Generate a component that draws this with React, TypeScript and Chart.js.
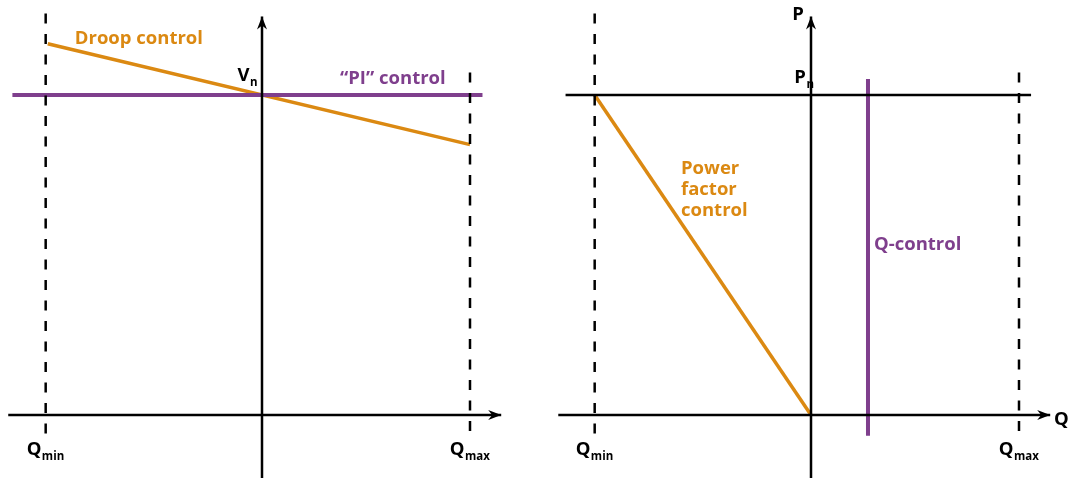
import React, { useEffect, useRef } from "react";
import { Chart, registerables } from "chart.js";

Chart.register(...registerables);

// ---------- data (Q in p.u. of Qmax, V/P in p.u. of nominal) ----------
const Q_MIN = -1.04;
const Q_MAX = 1.0;

// left panel: V(Q)
const droopQ = [-1.03, 1.0];
const droopV = [1.16, 0.845];
const piQ = [-1.2, 1.06];
const piV = [1.0, 1.0];
const leftAxisQ = [-1.22, 1.15];
const leftAxisV = [-0.2, 1.245];
const leftDashMinV = [1.255, -0.06];
const leftDashMaxV = [1.07, -0.06];

// right panel: P(Q)
const pfQ = [Q_MIN, 0];
const pfP = [1.0, 0.0];
const qCtrlQ = [0.274, 0.274];
const qCtrlP = [1.05, -0.065];
const pnLineQ = [-1.18, 1.058];
const pnLineP = [1.0, 1.0];
const rightAxisQ = [-1.215, 1.15];
const rightAxisP = [-0.2, 1.245];
const rightDashMinP = [1.255, -0.06];
const rightDashMaxP = [1.07, -0.06];

const ORANGE = "#db8912";
const PURPLE = "#7f3f8d";
const BLACK = "#000000";
const FONT = '"Open Sans", "DejaVu Sans", sans-serif';

type Label = { text: string; sub?: string; x: number; y: number; color: string; align?: "left" | "center" };

const leftLabels: Label[] = [
  { text: "Droop control", x: -0.9, y: 1.159, color: ORANGE },
  { text: "V", sub: "n", x: -0.118, y: 1.044, color: BLACK },
  { text: "\u201cPI\u201d control", x: 0.375, y: 1.034, color: PURPLE },
  { text: "Q", sub: "min", x: Q_MIN, y: -0.125, color: BLACK, align: "center" },
  { text: "Q", sub: "max", x: Q_MAX, y: -0.125, color: BLACK, align: "center" },
];

const rightLabels: Label[] = [
  { text: "P", x: -0.09, y: 1.234, color: BLACK },
  { text: "P", sub: "n", x: -0.08, y: 1.0375, color: BLACK },
  { text: "Q", x: 1.168, y: -0.031, color: BLACK },
  { text: "Power", x: -0.625, y: 0.753, color: ORANGE },
  { text: "factor", x: -0.625, y: 0.6875, color: ORANGE },
  { text: "control", x: -0.625, y: 0.622, color: ORANGE },
  { text: "Q-control", x: 0.303, y: 0.516, color: PURPLE },
  { text: "Q", sub: "min", x: Q_MIN, y: -0.125, color: BLACK, align: "center" },
  { text: "Q", sub: "max", x: Q_MAX, y: -0.125, color: BLACK, align: "center" },
];

const pts = (xs: number[], ys: number[]) => xs.map((x, i) => ({ x, y: ys[i] }));

const lineDs = (data: { x: number; y: number }[], color: string, width: number, extra: any = {}) => ({
  data,
  borderColor: color,
  backgroundColor: color,
  borderWidth: width,
  showLine: true,
  pointRadius: 0,
  borderCapStyle: "butt",
  clip: false,
  ...extra,
});

const diagramPlugin = (labels: Label[], arrowDatasets: number[]) => ({
  id: "diagram",
  afterDatasetsDraw(chart: any) {
    const ctx = chart.ctx as CanvasRenderingContext2D;
    const xs = chart.scales.x;
    const ys = chart.scales.y;
    // arrowheads at the end of axis datasets
    arrowDatasets.forEach((di) => {
      const d = chart.data.datasets[di].data;
      const a = d[d.length - 2];
      const b = d[d.length - 1];
      const x1 = xs.getPixelForValue(a.x), y1 = ys.getPixelForValue(a.y);
      const x2 = xs.getPixelForValue(b.x), y2 = ys.getPixelForValue(b.y);
      const ang = Math.atan2(y2 - y1, x2 - x1);
      const L = 13, W = 5;
      ctx.save();
      ctx.fillStyle = BLACK;
      ctx.beginPath();
      ctx.moveTo(x2, y2);
      ctx.lineTo(x2 - L * Math.cos(ang) - W * Math.sin(ang), y2 - L * Math.sin(ang) + W * Math.cos(ang));
      ctx.lineTo(x2 - (L - 4) * Math.cos(ang), y2 - (L - 4) * Math.sin(ang));
      ctx.lineTo(x2 - L * Math.cos(ang) + W * Math.sin(ang), y2 - L * Math.sin(ang) - W * Math.cos(ang));
      ctx.closePath();
      ctx.fill();
      ctx.restore();
    });
    // text labels
    labels.forEach((lb) => {
      ctx.save();
      ctx.fillStyle = lb.color;
      ctx.textBaseline = "alphabetic";
      ctx.textAlign = "left";
      const main = `bold 18.5px ${FONT}`;
      const sub = `bold 11.5px ${FONT}`;
      ctx.font = main;
      const wMain = ctx.measureText(lb.text).width;
      let wSub = 0;
      if (lb.sub) {
        ctx.font = sub;
        wSub = ctx.measureText(lb.sub).width + 1;
      }
      let px = xs.getPixelForValue(lb.x);
      const py = ys.getPixelForValue(lb.y);
      if (lb.align === "center") px -= (wMain + wSub) / 2;
      ctx.font = main;
      ctx.fillText(lb.text, px, py);
      if (lb.sub) {
        ctx.font = sub;
        ctx.fillText(lb.sub, px + wMain + 0.5, py + 5);
      }
      ctx.restore();
    });
  },
});

const makeOptions = (xmin: number, xmax: number, ymin: number, ymax: number) => ({
  animation: false,
  responsive: false,
  maintainAspectRatio: false,
  layout: { padding: 0 },
  plugins: { legend: { display: false }, tooltip: { enabled: false } },
  scales: {
    x: { type: "linear", min: xmin, max: xmax, display: false },
    y: { type: "linear", min: ymin, max: ymax, display: false },
  },
});

const DASH = [10, 10.5];

function Panel({ which }: { which: "left" | "right" }) {
  const ref = useRef<HTMLCanvasElement | null>(null);
  useEffect(() => {
    if (!ref.current) return;
    let datasets: any[];
    let labels: Label[];
    let opts: any;
    if (which === "left") {
      datasets = [
        lineDs(pts([leftAxisQ[0], leftAxisQ[1]], [0, 0]), BLACK, 2.5),
        lineDs(pts([0, 0], [leftAxisV[0], leftAxisV[1]]), BLACK, 2.5),
        lineDs(pts([Q_MIN, Q_MIN], leftDashMinV), BLACK, 2.5, { borderDash: DASH }),
        lineDs(pts([Q_MAX, Q_MAX], leftDashMaxV), BLACK, 2.5, { borderDash: DASH }),
        lineDs(pts(piQ, piV), PURPLE, 4),
        lineDs(pts(droopQ, droopV), ORANGE, 3.5),
      ];
      labels = leftLabels;
      opts = makeOptions(-262 / 208, -262 / 208 + 534 / 208, 415 / 320 - 478 / 320, 415 / 320);
    } else {
      datasets = [
        lineDs(pts([rightAxisQ[0], rightAxisQ[1]], [0, 0]), BLACK, 2.5),
        lineDs(pts([0, 0], [rightAxisP[0], rightAxisP[1]]), BLACK, 2.5),
        lineDs(pts([Q_MIN, Q_MIN], rightDashMinP), BLACK, 2.5, { borderDash: DASH }),
        lineDs(pts([Q_MAX, Q_MAX], rightDashMaxP), BLACK, 2.5, { borderDash: DASH }),
        lineDs(pts(pnLineQ, pnLineP), BLACK, 2.5),
        lineDs(pts(pfQ, pfP), ORANGE, 3.5),
        lineDs(pts(qCtrlQ, qCtrlP), PURPLE, 4),
      ];
      labels = rightLabels;
      opts = makeOptions(-277 / 208, -277 / 208 + 535 / 208, 415 / 320 - 478 / 320, 415 / 320);
    }
    const chart = new Chart(ref.current, {
      type: "scatter",
      data: { datasets },
      options: opts,
      plugins: [diagramPlugin(labels, [0, 1])],
    } as any);
    return () => chart.destroy();
  }, [which]);
  const w = which === "left" ? 534 : 535;
  return <canvas ref={ref} width={w} height={478} style={{ display: "block", width: w, height: 478 }} />;
}

export default function App() {
  return (
    <div
      style={{
        position: "absolute",
        left: 0,
        top: 0,
        width: 1069,
        height: 478,
        display: "flex",
        background: "#ffffff",
      }}
    >
      <Panel which="left" />
      <Panel which="right" />
    </div>
  );
}
